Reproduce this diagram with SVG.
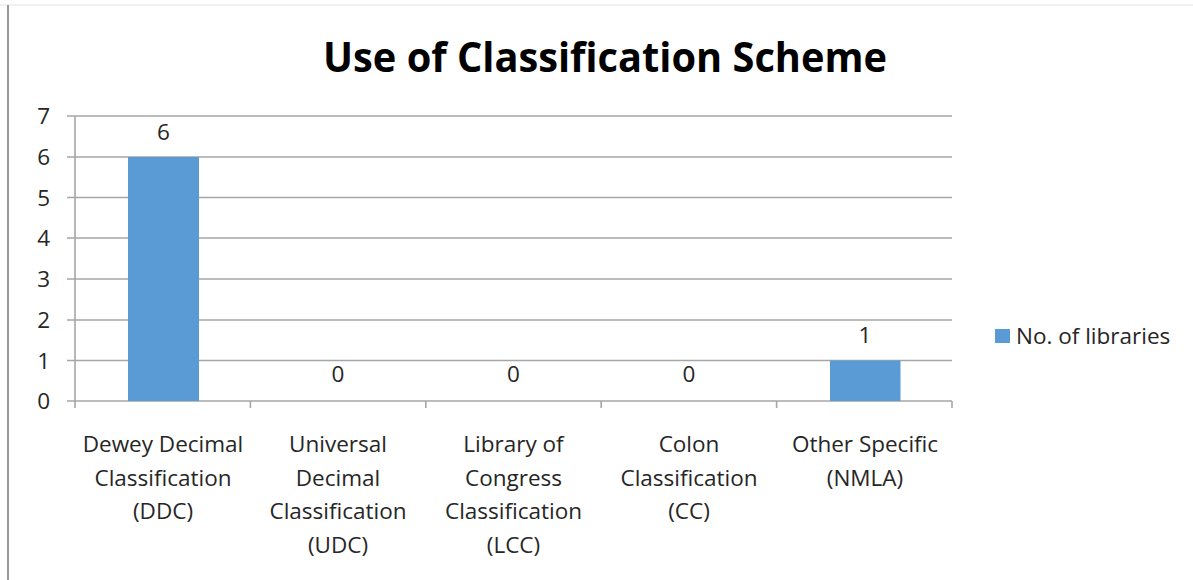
<svg xmlns="http://www.w3.org/2000/svg" width="1193" height="580" viewBox="0 0 1193 580">
<style>
.grid{stroke:#a6a6a6;stroke-width:1.6;fill:none}
.bar{fill:#5b9bd5}
.lbl{font-family:"Open Sans","Liberation Sans",sans-serif;font-size:22.5px;fill:#262626;text-anchor:middle}
.ylbl{font-family:"Open Sans","Liberation Sans",sans-serif;font-size:22.5px;fill:#262626;text-anchor:end}
.title{font-family:"Open Sans","Liberation Sans",sans-serif;font-size:41px;font-weight:bold;fill:#000;text-anchor:middle}
</style>
<rect x="0" y="0" width="1193" height="580" fill="#fff"/>
<line x1="0" y1="5" x2="1193" y2="5" stroke="#ececec" stroke-width="1.5"/>
<line x1="8" y1="5" x2="8" y2="580" stroke="#9a9a9a" stroke-width="2"/>
<g id="title"><text class="title" x="605" y="72" textLength="564" lengthAdjust="spacingAndGlyphs">Use of Classification Scheme</text></g>
<g id="axes">
<path class="grid" d="M67 116H952M67 157H952M67 197.5H952M67 238H952M67 279H952M67 320H952M67 360.5H952M67 401H952M75 116V408M250.4 401V408M425.8 401V408M601.2 401V408M776.6 401V408M952 401V408"/>
<text class="ylbl" x="50" y="124">7</text>
<text class="ylbl" x="50" y="165">6</text>
<text class="ylbl" x="50" y="205.5">5</text>
<text class="ylbl" x="50" y="246">4</text>
<text class="ylbl" x="50" y="287">3</text>
<text class="ylbl" x="50" y="328">2</text>
<text class="ylbl" x="50" y="368.5">1</text>
<text class="ylbl" x="50" y="409">0</text>
</g>
<g id="bar-ddc"><rect class="bar" x="128" y="157" width="71" height="244"/><text class="lbl" x="163.5" y="140">6</text>
<text class="lbl" x="163" y="452">Dewey Decimal</text><text class="lbl" x="163" y="485.5">Classification</text><text class="lbl" x="163" y="519">(DDC)</text></g>
<g id="bar-udc"><text class="lbl" x="338" y="382">0</text>
<text class="lbl" x="338" y="452">Universal</text><text class="lbl" x="338" y="485.5">Decimal</text><text class="lbl" x="338" y="519">Classification</text><text class="lbl" x="338" y="552.5">(UDC)</text></g>
<g id="bar-lcc"><text class="lbl" x="513.5" y="382">0</text>
<text class="lbl" x="513.5" y="452">Library of</text><text class="lbl" x="513.5" y="485.5">Congress</text><text class="lbl" x="513.5" y="519">Classification</text><text class="lbl" x="513.5" y="552.5">(LCC)</text></g>
<g id="bar-cc"><text class="lbl" x="689" y="382">0</text>
<text class="lbl" x="689" y="452">Colon</text><text class="lbl" x="689" y="485.5">Classification</text><text class="lbl" x="689" y="519">(CC)</text></g>
<g id="bar-other"><rect class="bar" x="830" y="360.5" width="70.5" height="40.5"/><text class="lbl" x="865" y="343">1</text>
<text class="lbl" x="865" y="452">Other Specific</text><text class="lbl" x="865" y="485.5">(NMLA)</text></g>
<g id="legend"><rect class="bar" x="995" y="329" width="15" height="14"/><text class="lbl" style="text-anchor:start" x="1016" y="344">No. of libraries</text></g>
</svg>
